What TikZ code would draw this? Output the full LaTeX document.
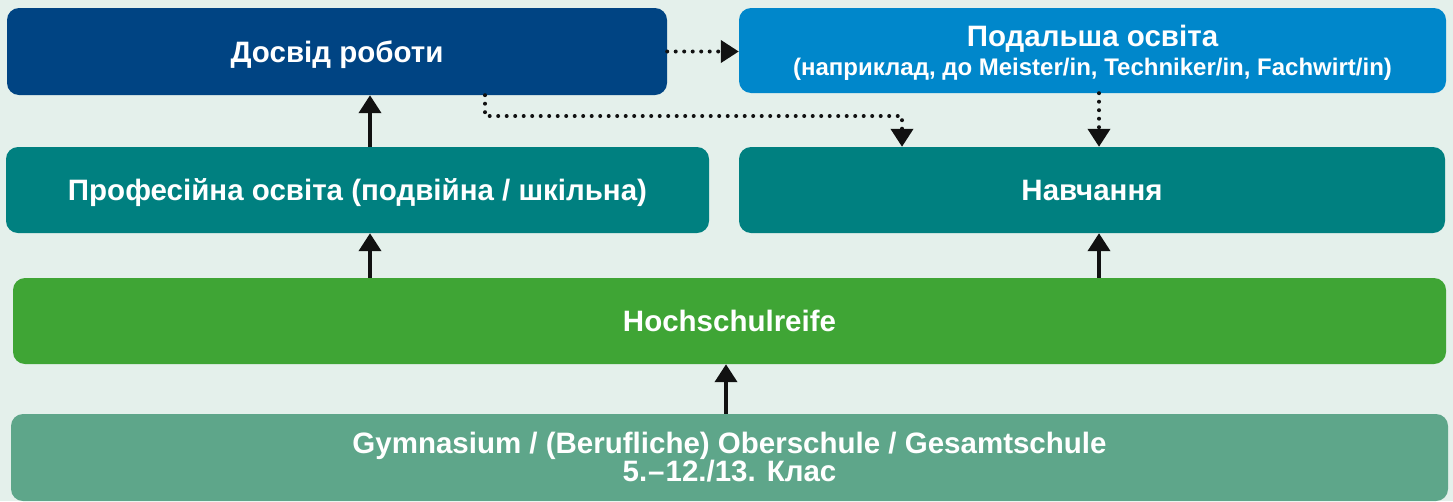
\documentclass[tikz,border=0pt]{standalone}
\usepackage{fontspec}
\setmainfont{Liberation Sans}
\usetikzlibrary{arrows.meta}
\definecolor{bgc}{HTML}{E4F0EB}
\definecolor{darkblue}{HTML}{004483}
\definecolor{midblue}{HTML}{0087CB}
\definecolor{tealc}{HTML}{008080}
\definecolor{greenc}{HTML}{3FA535}
\definecolor{sagec}{HTML}{5EA68A}
\definecolor{arrowc}{HTML}{111111}
\tikzset{
  box/.style={rounded corners=12pt, inner sep=0pt, text=white, align=center,
    font=\fontsize{29.5}{28}\selectfont\bfseries},
  nodepth/.style={text depth=0pt},
  solidarrow/.style={draw=arrowc, line width=4pt, -{Triangle[width=22pt,length=18pt]}},
  dotarrow/.style={draw=arrowc, line width=4pt, line cap=round, dash pattern=on 0pt off 8.5pt,
    -{Triangle[width=22pt,length=18pt]}}
}
\begin{document}
\begin{tikzpicture}[x=1pt,y=-1pt]
\fill[bgc] (0,0) rectangle (1453,501);
\useasboundingbox (0,0) rectangle (1453,501);
\node[box, nodepth, fill=darkblue, minimum width=660pt, minimum height=87pt] (A) at (337,51.5) {Досвід роботи};
\node[box, nodepth, fill=midblue, minimum width=707pt, minimum height=85pt] (B) at (1092.5,50.5)
  {Подальша освіта\\[1pt]{\fontsize{24}{28}\selectfont (наприклад, до Meister/in, Techniker/in, Fachwirt/in)}};
\node[box, nodepth, fill=tealc, minimum width=703pt, minimum height=86pt] (C) at (357.5,190) {Професійна освіта (подвійна / шкільна)};
\node[box, fill=tealc, minimum width=706pt, minimum height=86pt] (D) at (1092,190) {Навчання};
\node[box, fill=greenc, minimum width=1433pt, minimum height=86pt] (E) at (729.5,321) {Hochschulreife};
\node[box, fill=sagec, minimum width=1437pt, minimum height=87pt] (F) at (729.5,457.5)
  {Gymnasium / (Berufliche) Oberschule / Gesamtschule\\5.\kern1pt–\kern1pt12./13. Клас};
\coordinate (x1) at (370,0);
\coordinate (x2) at (1099,0);
\coordinate (x3) at (726,0);
\coordinate (j) at (485,116);
\coordinate (k) at (902,0);
\draw[solidarrow] (C.north -| x1) -- (A.south -| x1);
\draw[solidarrow] (E.north -| x1) -- (C.south -| x1);
\draw[solidarrow] (E.north -| x2) -- (D.south -| x2);
\draw[solidarrow] (F.north -| x3) -- (E.south -| x3);
\draw[dotarrow] (A.east) -- (B.west |- A.east);
\draw[dotarrow] (B.south -| x2) -- (D.north -| x2);
\draw[dotarrow] (A.south -| j) -- (j) -- (j -| k) -- (D.north -| k);
\end{tikzpicture}
\end{document}
